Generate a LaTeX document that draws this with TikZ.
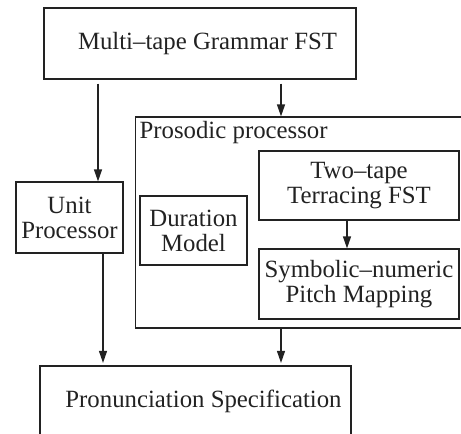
\documentclass[tikz,border=0pt]{standalone}
\usepackage{fontspec}
\setmainfont{Liberation Serif}
\usetikzlibrary{arrows.meta}
\definecolor{ink}{HTML}{222222}
\begin{document}
\begin{tikzpicture}[x=1pt,y=-1pt,
  lbl/.style={font=\fontsize{24.8}{25}\selectfont, text=ink},
  box/.style={draw=ink, line width=1.2pt, inner sep=0pt, align=center, lbl},
  arr/.style={draw=ink, line width=1.2pt, -{Triangle[length=12pt,width=8pt]}}]
\useasboundingbox (0,0) rectangle (461,434);
\clip (0,0) rectangle (461,434);
% boxes
\node[box, minimum width=312, minimum height=71] (gram) at (200,43.5) {\hspace*{15pt}Multi–tape Grammar FST};
\node[box, minimum width=354, minimum height=211,
  label={[lbl, anchor=north west, inner sep=4.5pt]north west:Prosodic processor}] (pros) at (312.5,222.5) {};
\node[box, minimum width=107, minimum height=71] (unit) at (69.5,217.5) {Unit\\Processor};
\node[box, minimum width=107, minimum height=69] (dur) at (193.5,230.5) {Duration\\Model};
\node[box, minimum width=200, minimum height=69] (two) at (359,185.5) {Two–tape\\Terracing FST};
\node[box, minimum width=200, minimum height=70] (sym) at (359,284) {Symbolic–numeric\\Pitch Mapping};
\node[box, minimum width=311, minimum height=70] (pron) at (195.5,401) {\hspace*{16pt}Pronunciation Specification};
% arrow columns
\coordinate (xA) at (98,0);
\coordinate (xB) at (103,0);
\coordinate (xC) at (281,0);
\coordinate (xD) at (347,0);
% connectors
\draw[arr, shorten <=4pt] (gram.south -| xA) -- (unit.north -| xA);
\draw[arr, shorten <=4pt] (gram.south -| xC) -- (pros.north -| xC);
\draw[arr] (two.south -| xD) -- (sym.north -| xD);
\draw[arr, shorten >=2.5pt] (unit.south -| xB) -- (pron.north -| xB);
\draw[arr, shorten >=2.5pt] (pros.south -| xC) -- (pron.north -| xC);
\end{tikzpicture}
\end{document}
